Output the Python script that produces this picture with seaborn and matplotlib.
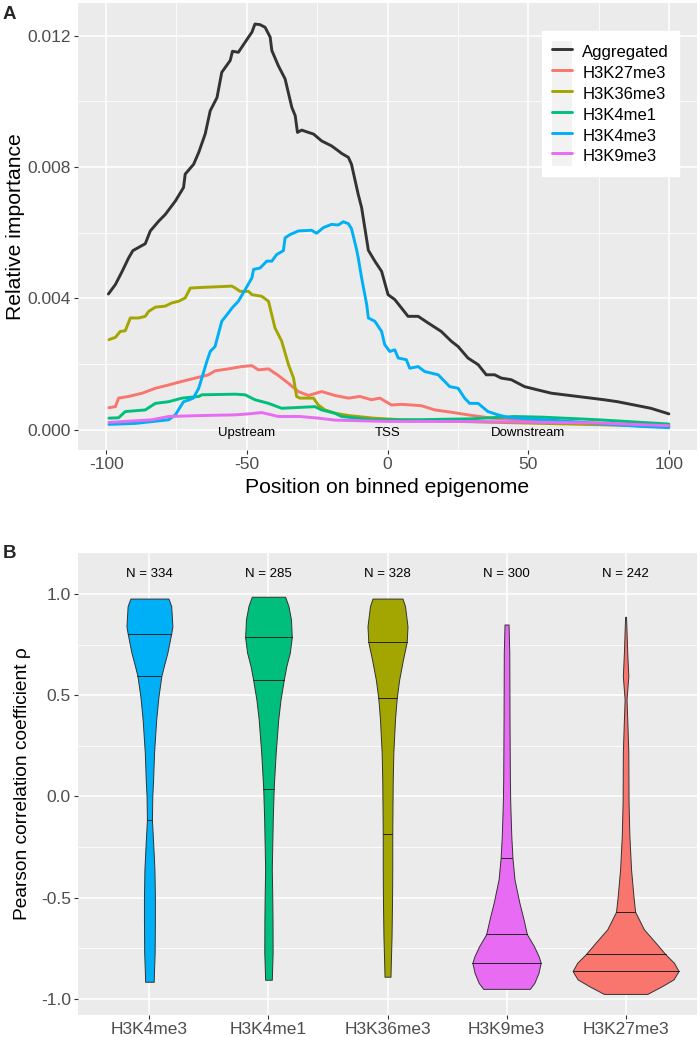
import numpy as np
import pandas as pd
import matplotlib
matplotlib.use("Agg")
import matplotlib.pyplot as plt
from matplotlib.lines import Line2D
from matplotlib.patches import Rectangle
from matplotlib.legend_handler import HandlerLine2D
import seaborn as sns

# ---------------- data: panel A ----------------
series_order = ["Aggregated", "H3K27me3", "H3K36me3", "H3K4me1", "H3K4me3", "H3K9me3"]
series_colors = ["#333333", "#F8766D", "#A3A500", "#00BF7D", "#00B0F6", "#E76BF3"]

agg_x = [-99.2, -96.7, -94.3, -92, -90.5, -86.1, -84.3, -81.3, -79, -75.4, -72.5, -71.9, -68.9, -67.1,
         -64.8, -63, -60.6, -58.9, -55.9, -55.1, -53, -49.4, -48.2, -47.1, -45.3, -43.5, -41.7, -41.1,
         -38.8, -36.4, -34, -32.8, -32, -30.5, -28.1, -26.3, -23.4, -19.9, -17.5, -16.3, -13.9, -12.8,
         -10.4, -9.2, -6.8, -4.5, -2.1, 0.2, 2.6, 5, 7.3, 10.9, 14.4, 19.1, 22.7, 25.1, 28.6, 32.2,
         35.1, 38.1, 40.4, 44, 48.7, 53.4, 58.2, 62.9, 67.6, 77, 81.8, 87.7, 93.6, 100]
agg_y = [0.00413, 0.00442, 0.00482, 0.00523, 0.00545, 0.00566, 0.00605, 0.00635, 0.00655, 0.00696,
         0.00737, 0.00778, 0.00808, 0.00844, 0.0090, 0.00971, 0.01011, 0.01088, 0.01124, 0.01152,
         0.01149, 0.01195, 0.0121, 0.01235, 0.01233, 0.01225, 0.01195, 0.01154, 0.01108, 0.01068,
         0.00981, 0.00956, 0.00905, 0.00912, 0.00905, 0.0090, 0.00879, 0.00864, 0.00849, 0.00841,
         0.00829, 0.00808, 0.00716, 0.00676, 0.00546, 0.00513, 0.00482, 0.00411, 0.00396, 0.0037,
         0.00345, 0.00345, 0.00325, 0.00299, 0.00269, 0.00253, 0.00218, 0.00198, 0.00167, 0.00167,
         0.00157, 0.00152, 0.00131, 0.00121, 0.00111, 0.00106, 0.00101, 0.00091, 0.00085, 0.00075,
         0.00065, 0.00048]

k27_x = [-99, -96.7, -95.6, -92, -87.2, -82.5, -77.8, -73, -68.3, -63.6, -61.3, -56.6, -51.8, -48.2,
         -45.9, -42.3, -38.8, -35.2, -31.7, -28.1, -23.4, -18.7, -13.9, -9.8, -5.7, -2.7, 1.4, 5, 12,
         16.8, 22.7, 28.6, 36.9, 50, 75, 100]
k27_y = [0.00067, 0.0007, 0.00096, 0.00101, 0.00111, 0.00126, 0.00136, 0.00147, 0.00157, 0.00167,
         0.00179, 0.00185, 0.00192, 0.00195, 0.00182, 0.00185, 0.00165, 0.00141, 0.00116, 0.00104,
         0.00116, 0.00104, 0.00096, 0.00101, 0.00091, 0.00096, 0.00075, 0.00077, 0.00073, 0.0006,
         0.00053, 0.00045, 0.00035, 0.00028, 0.0002, 0.00012]

k36_x = [-99, -96.7, -95, -93.2, -91.4, -88.4, -86.1, -84.9, -82.5, -79, -76.6, -74.2, -71.9, -70.1,
         -66, -55.3, -54.1, -52.4, -49.4, -48.2, -44.7, -42.3, -40, -37.6, -35.2, -33.4, -32.3, -31.1,
         -26.3, -24.6, -22.2, -18.7, -13.9, -5, 5, 25, 50, 75, 100]
k36_y = [0.00274, 0.00281, 0.00299, 0.00301, 0.0034, 0.0034, 0.00345, 0.0036, 0.00373, 0.00376,
         0.00386, 0.00391, 0.00401, 0.00431, 0.00433, 0.00437, 0.00431, 0.00421, 0.00421, 0.00411,
         0.00406, 0.00391, 0.0031, 0.00269, 0.00198, 0.00157, 0.00101, 0.00096, 0.00096, 0.00075,
         0.0006, 0.0005, 0.00043, 0.00035, 0.0003, 0.00025, 0.0002, 0.00015, 0.0001]

k4me1_x = [-99, -95.6, -93.2, -86.1, -82.5, -77.8, -73, -67.1, -66, -54.1, -50.6, -47.1, -42.3, -37.6,
           -32.9, -25.8, -23.4, -18.7, -16.3, -5, 10, 30, 45, 55, 75, 100]
k4me1_y = [0.00035, 0.00036, 0.00055, 0.0006, 0.0008, 0.00085, 0.00096, 0.00101, 0.00106, 0.00108,
           0.00106, 0.00091, 0.0008, 0.00065, 0.00067, 0.0007, 0.0006, 0.0005, 0.0004, 0.0003, 0.0003,
           0.00033, 0.0004, 0.00038, 0.0003, 0.00017]

k4me3_x = [-99, -89.6, -77.8, -75.4, -72.5, -70.7, -69, -67.1, -66, -64.2, -63, -61.3, -58.9, -56.6,
           -55.3, -53, -50.6, -48.2, -47.6, -45.3, -42.9, -41.1, -39.4, -37, -36.4, -34.6, -31.7, -27,
           -25.2, -22.8, -19.9, -17.5, -15.7, -13.9, -12.8, -11, -10.4, -9.2, -7.4, -6.8, -4.5, -2.1,
           -1, 0.8, 2.6, 3.8, 6.7, 7.9, 10.9, 13.2, 18, 20.3, 22.1, 25.1, 27.4, 29.2, 32.2, 35.7, 39.3,
           42.8, 46.3, 60, 75, 90, 100]
k4me3_y = [0.00016, 0.00019, 0.0003, 0.00045, 0.00085, 0.0009, 0.00096, 0.00126, 0.00157, 0.00208,
           0.00238, 0.00253, 0.0033, 0.00355, 0.0037, 0.00391, 0.00426, 0.00462, 0.00488, 0.00492,
           0.00513, 0.00513, 0.00533, 0.00545, 0.00584, 0.00594, 0.00605, 0.00607, 0.00598, 0.00615,
           0.00625, 0.00623, 0.00633, 0.00627, 0.00612, 0.00549, 0.00523, 0.00462, 0.00381, 0.0034,
           0.0033, 0.00299, 0.00259, 0.00238, 0.00243, 0.00218, 0.00213, 0.00187, 0.00192, 0.00177,
           0.00167, 0.00147, 0.00131, 0.00126, 0.00096, 0.0008, 0.0008, 0.00055, 0.00045, 0.00037,
           0.00035, 0.00028, 0.00018, 0.0001, 0.00006]

k9_x = [-99, -83.7, -77.8, -66, -54.1, -49.4, -44.7, -38.8, -31.1, -24.6, -18.7, 0, 25, 50, 75, 100]
k9_y = [0.00022, 0.0003, 0.0004, 0.00043, 0.00045, 0.00048, 0.00052, 0.0004, 0.0004, 0.00035,
        0.00029, 0.00025, 0.00025, 0.00023, 0.0002, 0.00012]

region_labels = ["Upstream", "TSS", "Downstream"]
region_x = [-50, 0, 50]

# ---------------- data: panel B ----------------
violin_cats = ["H3K4me3", "H3K4me1", "H3K36me3", "H3K9me3", "H3K27me3"]
violin_colors = ["#00B0F6", "#00BF7D", "#A3A500", "#E76BF3", "#F8766D"]
violin_n = [334, 285, 328, 300, 242]

# density profiles (rho value, half width in category units)
prof_k4me3_y = [0.977, 0.94, 0.84, 0.805, 0.71, 0.65, 0.597, 0.494, 0.38, 0.217, 0.084, 0.0, -0.114,
                -0.26, -0.36, -0.497, -0.607, -0.77, -0.854, -0.915]
prof_k4me3_w = [0.160, 0.183, 0.193, 0.183, 0.151, 0.124, 0.101, 0.076, 0.057, 0.039, 0.031, 0.024,
                0.021, 0.034, 0.042, 0.046, 0.046, 0.044, 0.039, 0.036]
prof_k4me1_y = [0.986, 0.94, 0.874, 0.786, 0.709, 0.643, 0.577, 0.477, 0.38, 0.217, 0.084, 0.039,
                -0.114, -0.36, -0.497, -0.607, -0.77, -0.905]
prof_k4me1_w = [0.140, 0.168, 0.189, 0.196, 0.179, 0.150, 0.129, 0.101, 0.082, 0.061, 0.048, 0.044,
                0.036, 0.028, 0.032, 0.034, 0.035, 0.028]
prof_k36_y = [0.977, 0.94, 0.84, 0.762, 0.676, 0.577, 0.484, 0.38, 0.217, 0.084, -0.183, -0.36,
              -0.523, -0.69, -0.82, -0.89]
prof_k36_w = [0.126, 0.147, 0.168, 0.161, 0.130, 0.098, 0.077, 0.063, 0.049, 0.044, 0.040, 0.040,
              0.038, 0.034, 0.028, 0.025]
prof_k9_y = [0.849, 0.71, 0.38, 0.084, -0.03, -0.196, -0.306, -0.41, -0.525, -0.607, -0.68, -0.74,
             -0.788, -0.821, -0.87, -0.92, -0.95]
prof_k9_w = [0.017, 0.023, 0.025, 0.028, 0.031, 0.040, 0.050, 0.067, 0.108, 0.143, 0.171, 0.231,
             0.269, 0.287, 0.269, 0.234, 0.196]
prof_k27_y = [0.887, 0.71, 0.594, 0.479, 0.38, 0.217, 0.084, -0.03, -0.196, -0.36, -0.492, -0.569,
              -0.656, -0.722, -0.78, -0.821, -0.862, -0.903, -0.936, -0.975]
prof_k27_w = [0.004, 0.014, 0.023, 0.008, 0.014, 0.023, 0.024, 0.025, 0.032, 0.046, 0.066, 0.080,
              0.154, 0.252, 0.336, 0.406, 0.445, 0.403, 0.308, 0.182]

quart_k4me3 = [-0.117, 0.597, 0.803]
quart_k4me1 = [0.039, 0.577, 0.786]
quart_k36 = [-0.183, 0.484, 0.762]
quart_k9 = [-0.821, -0.68, -0.306]
quart_k27 = [-0.862, -0.78, -0.569]

profiles = [(prof_k4me3_y, prof_k4me3_w, quart_k4me3),
            (prof_k4me1_y, prof_k4me1_w, quart_k4me1),
            (prof_k36_y, prof_k36_w, quart_k36),
            (prof_k9_y, prof_k9_w, quart_k9),
            (prof_k27_y, prof_k27_w, quart_k27)]

# ---------------- style ----------------
sns.set_theme(style="darkgrid", rc={
    "axes.facecolor": "#EBEBEB",
    "figure.facecolor": "white",
    "grid.color": "white",
    "grid.linewidth": 1.1,
    "axes.linewidth": 0,
    "xtick.bottom": True,
    "ytick.left": True,
    "xtick.color": "#333333",
    "ytick.color": "#333333",
    "xtick.labelcolor": "#4D4D4D",
    "ytick.labelcolor": "#4D4D4D",
    "xtick.major.size": 3.0,
    "ytick.major.size": 3.0,
    "xtick.major.width": 0.8,
    "ytick.major.width": 0.8,
    "xtick.major.pad": 2.2,
    "ytick.major.pad": 2.2,
    "axes.unicode_minus": False,
})
plt.rcParams["font.family"] = ["Liberation Sans", "DejaVu Sans"]

TICK_FS = 12.5
TITLE_FS = 15.2
LEG_FS = 12

W, H = 700, 1037
fig = plt.figure(figsize=(7, 10.37), dpi=100)

def px_axes(l, t, r, b):
    return fig.add_axes([l / W, 1 - b / H, (r - l) / W, (b - t) / H])

# ---------------- panel A ----------------
axA = px_axes(78, 3, 697, 450)
frames = []
for name, xs, ys in [("Aggregated", agg_x, agg_y), ("H3K27me3", k27_x, k27_y),
                     ("H3K36me3", k36_x, k36_y), ("H3K4me1", k4me1_x, k4me1_y),
                     ("H3K4me3", k4me3_x, k4me3_y), ("H3K9me3", k9_x, k9_y)]:
    frames.append(pd.DataFrame({"x": xs, "y": ys, "series": name}))
dfA = pd.concat(frames, ignore_index=True)

sns.lineplot(data=dfA, x="x", y="y", hue="series", hue_order=series_order,
             palette=dict(zip(series_order, series_colors)), linewidth=2.1,
             estimator=None, sort=True, ax=axA)

axA.set_xlim(-110, 110)
axA.set_ylim(-0.00062, 0.01299)
axA.set_xticks([-100, -50, 0, 50, 100])
axA.set_xticklabels(["-100", "-50", "0", "50", "100"])
axA.set_xticks([-75, -25, 25, 75], minor=True)
axA.set_yticks([0.0, 0.004, 0.008, 0.012])
axA.set_yticklabels(["0.000", "0.004", "0.008", "0.012"])
axA.set_yticks([0.002, 0.006, 0.010], minor=True)
axA.grid(which="major", color="white", linewidth=1.1)
axA.grid(which="minor", color="white", linewidth=0.55)
axA.tick_params(which="minor", length=0)
axA.tick_params(which="major", labelsize=TICK_FS)
axA.set_xlabel("Position on binned epigenome", fontsize=TITLE_FS, color="black", labelpad=4.5)
axA.set_ylabel("Relative importance", fontsize=TITLE_FS, color="black", labelpad=1.5)

for lab, xv in zip(region_labels, region_x):
    axA.text(xv, -0.00011, lab, ha="center", va="center", fontsize=9.5, color="black")


class KeyBG(HandlerLine2D):
    def create_artists(self, legend, orig_handle, xdescent, ydescent, width, height, fontsize, trans):
        arts = super().create_artists(legend, orig_handle, xdescent, ydescent, width, height,
                                      fontsize, trans)
        r = Rectangle((-xdescent, -ydescent), width, height, facecolor="#F2F2F2",
                      edgecolor="none", transform=trans)
        return [r] + list(arts)


handles, labels = axA.get_legend_handles_labels()
for h in handles:
    h.set_linewidth(2.1)
leg = axA.legend(handles, labels, loc="upper left", bbox_to_anchor=(0.75, 0.937),
                 borderaxespad=0, frameon=True, facecolor="white", edgecolor="white",
                 framealpha=1, fancybox=False, fontsize=LEG_FS, handlelength=1.2,
                 handleheight=1.55, labelspacing=0.0, handletextpad=0.6, borderpad=0.6,
                 handler_map={Line2D: KeyBG()})
for t in leg.get_texts():
    t.set_color("black")

fig.text(3 / W, 1 - 6 / H, "A", fontsize=13.5, fontweight="bold", va="top", ha="left")

# ---------------- panel B ----------------
axB = px_axes(78, 553, 697, 1015)
for i, ((py, pw, qs), col) in enumerate(zip(profiles, violin_colors)):
    py = np.asarray(py)
    pw = np.asarray(pw)
    axB.fill_betweenx(py, i - pw, i + pw, facecolor=col, edgecolor="#333333",
                      linewidth=0.7, zorder=3)
    order = np.argsort(py)
    for q in qs:
        hw = np.interp(q, py[order], pw[order])
        axB.plot([i - hw, i + hw], [q, q], color="#222222", linewidth=0.7, zorder=4)
    axB.text(i, 1.1, f"N = {violin_n[i]}", ha="center", va="center", fontsize=9.5, color="black")

axB.set_xlim(-0.6, 4.6)
axB.set_ylim(-1.079, 1.202)
axB.set_xticks(range(len(violin_cats)))
axB.set_xticklabels(violin_cats)
axB.set_yticks([-1.0, -0.5, 0.0, 0.5, 1.0])
axB.set_yticklabels(["-1.0", "-0.5", "0.0", "0.5", "1.0"])
axB.set_yticks([-0.75, -0.25, 0.25, 0.75], minor=True)
axB.grid(which="major", color="white", linewidth=1.1)
axB.grid(which="minor", axis="y", color="white", linewidth=0.55)
axB.tick_params(which="minor", length=0)
axB.tick_params(which="major", labelsize=TICK_FS)
axB.set_xlabel("")
axB.set_ylabel("Pearson correlation coefficient ρ", fontsize=13.8, color="black", labelpad=7)

fig.text(3 / W, 1 - 545 / H, "B", fontsize=13.5, fontweight="bold", va="top", ha="left")

fig.savefig("out.png", dpi=100)
